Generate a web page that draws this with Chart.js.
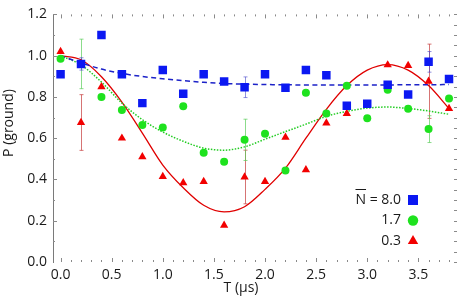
<!DOCTYPE html>
<html>
<head>
<meta charset="utf-8">
<script src="https://cdn.jsdelivr.net/npm/chart.js@4.4.1/dist/chart.umd.min.js"></script>
<style>
  html, body { margin: 0; padding: 0; background: #fff; }
  #wrap { width: 463px; height: 298px; position: relative; }
</style>
</head>
<body>
<div id="wrap"><canvas id="chart"></canvas></div>
<script>
// measurement times (us)
const times = [0.0, 0.2, 0.4, 0.6, 0.8, 1.0, 1.2, 1.4, 1.6, 1.8, 2.0, 2.2, 2.4, 2.6, 2.8, 3.0, 3.2, 3.4, 3.6, 3.8];

// P(ground) for each mean phonon number
const pN80 = [0.91, 0.96, 1.10, 0.91, 0.77, 0.93, 0.815, 0.91, 0.875, 0.847, 0.91, 0.845, 0.93, 0.905, 0.757, 0.767, 0.859, 0.812, 0.97, 0.887];
const pN17 = [0.985, 0.96, 0.80, 0.737, 0.664, 0.652, 0.755, 0.53, 0.486, 0.592, 0.622, 0.443, 0.82, 0.72, 0.854, 0.697, 0.835, 0.743, 0.644, 0.792];
const pN03 = [1.02, 0.676, 0.849, 0.60, 0.51, 0.414, 0.384, 0.39, 0.178, 0.412, 0.39, 0.604, 0.447, 0.673, 0.719, null, 0.955, 0.952, 0.876, 0.744];

const fitN80 = [1.0, 0.965, 0.935, 0.914, 0.899, 0.888, 0.879, 0.871, 0.865, 0.862, 0.86, 0.859, 0.858, 0.858, 0.858, 0.858, 0.858, 0.859, 0.859, 0.86];
const fitN17 = [1.0, 0.955, 0.872, 0.77, 0.69, 0.63, 0.585, 0.552, 0.542, 0.558, 0.595, 0.632, 0.668, 0.706, 0.73, 0.746, 0.751, 0.744, 0.732, 0.716];
const fitN03 = [1.0, 0.98, 0.898, 0.775, 0.625, 0.47, 0.36, 0.275, 0.243, 0.268, 0.352, 0.455, 0.6, 0.74, 0.855, 0.93, 0.957, 0.93, 0.855, 0.744];

// error bars (only a few points carry them)
const errTimes = [0.2, 1.8, 3.6];
const errN80 = [0.03, 0.05, 0.05];
const errN17 = [0.12, 0.10, 0.065];
const errN03 = [0.135, 0.13, 0.18];

const legendLabels = ['8.0', '1.7', '0.3'];
const xTickValues = [0.0, 0.5, 1.0, 1.5, 2.0, 2.5, 3.0, 3.5];
const yTickValues = [0.0, 0.2, 0.4, 0.6, 0.8, 1.0, 1.2];

const BLUE = '#0b18f2';
const GREEN = '#1ee21e';
const RED = '#f20000';

const toPts = (xs, ys) => xs.map((t, i) => ({ x: t, y: ys[i] }));

function valueAt(arr, t) {
    const i = times.indexOf(t);
    return i >= 0 ? arr[i] : null;
}

// error bars under the markers
const errorBars = {
    id: 'errorBars',
    beforeDatasetsDraw(chart) {
        const { ctx, scales: { x, y } } = chart;
        const sets = [
            { vals: pN03, errs: errN03, color: 'rgba(200, 70, 70, 0.75)' },
            { vals: pN17, errs: errN17, color: 'rgba(90, 205, 90, 0.7)' },
            { vals: pN80, errs: errN80, color: 'rgba(70, 70, 200, 0.6)' }
        ];
        ctx.save();
        ctx.lineWidth = 1;
        sets.forEach(s => {
            ctx.strokeStyle = s.color;
            errTimes.forEach((t, i) => {
                const v = valueAt(s.vals, t);
                if (v === null) return;
                const px = Math.round(x.getPixelForValue(t)) + 0.5;
                const top = y.getPixelForValue(v + s.errs[i]);
                const bot = y.getPixelForValue(v - s.errs[i]);
                ctx.beginPath();
                ctx.moveTo(px, top); ctx.lineTo(px, bot);
                ctx.moveTo(px - 2, top); ctx.lineTo(px + 2, top);
                ctx.moveTo(px - 2, bot); ctx.lineTo(px + 2, bot);
                ctx.stroke();
            });
        });
        ctx.restore();
    }
};

// small inward ticks on all four sides, titles, legend
function drawMarker(ctx, style, cx, cy, r, color) {
    ctx.fillStyle = color;
    ctx.beginPath();
    if (style === 'rect') {
        ctx.rect(cx - r, cy - r, 2 * r, 2 * r);
    } else if (style === 'circle') {
        ctx.arc(cx, cy, r, 0, Math.PI * 2);
    } else {
        ctx.moveTo(cx, cy - r);
        ctx.lineTo(cx + r * 0.866, cy + r * 0.5);
        ctx.lineTo(cx - r * 0.866, cy + r * 0.5);
        ctx.closePath();
    }
    ctx.fill();
}

const decorations = {
    id: 'decorations',
    afterDraw(chart) {
        const { ctx, chartArea: a, scales: { x, y } } = chart;
        ctx.save();
        ctx.strokeStyle = '#8a8a8a';
        ctx.lineWidth = 1;
        ctx.beginPath();
        for (let i = 0; i <= 38; i++) {
            const px = Math.round(x.getPixelForValue(i / 10)) + 0.5;
            const len = i % 5 === 0 ? 4 : 2;
            ctx.moveTo(px, a.bottom); ctx.lineTo(px, a.bottom - len);
            ctx.moveTo(px, a.top); ctx.lineTo(px, a.top + len);
        }
        for (let i = 1; i <= 12; i++) {
            const py = Math.round(y.getPixelForValue(i / 10)) + 0.5;
            const len = i % 2 === 0 ? 4 : 2;
            ctx.moveTo(a.left, py); ctx.lineTo(a.left + len, py);
        }
        for (let i = 0; i <= 24; i++) {
            const py = Math.round(y.getPixelForValue(i / 20)) + 0.5;
            ctx.moveTo(a.right, py); ctx.lineTo(a.right - 3, py);
        }
        ctx.stroke();

        // axis titles
        ctx.fillStyle = '#1a1a1a';
        ctx.font = "14px 'Open Sans', sans-serif";
        ctx.textAlign = 'center';
        ctx.textBaseline = 'middle';
        ctx.fillText('T (\u00b5s)', 241, 288);
        ctx.save();
        ctx.translate(9, 123);
        ctx.rotate(-Math.PI / 2);
        ctx.fillText('P (ground)', 0, 0);
        ctx.restore();

        // legend
        const rows = [
            { style: 'rect', r: 5, color: BLUE },
            { style: 'circle', r: 5.2, color: GREEN },
            { style: 'triangle', r: 6, color: RED }
        ];
        ctx.textAlign = 'right';
        rows.forEach((row, i) => {
            const cy = 200 + i * 20.5;
            let text = legendLabels[i];
            if (i === 0) text = 'N = ' + text;
            ctx.fillStyle = '#1a1a1a';
            ctx.fillText(text, 401, cy);
            if (i === 0) {
                const w = ctx.measureText(text).width;
                const nW = ctx.measureText('N').width;
                const left = 401 - w;
                ctx.beginPath();
                ctx.strokeStyle = '#1a1a1a';
                ctx.moveTo(left, cy - 10.5);
                ctx.lineTo(left + nW, cy - 10.5);
                ctx.stroke();
            }
            drawMarker(ctx, row.style, 413, cy, row.r, row.color);
        });
        ctx.restore();
    }
};

new Chart(document.getElementById('chart'), {
    type: 'scatter',
    data: {
        datasets: [
            {
                label: 'N = 8.0',
                data: toPts(times, pN80),
                pointStyle: 'rect',
                pointRadius: 6,
                pointBorderWidth: 0,
                backgroundColor: BLUE,
                borderColor: BLUE
            },
            {
                label: '1.7',
                data: toPts(times, pN17),
                pointStyle: 'circle',
                pointRadius: 4,
                pointBorderWidth: 0,
                backgroundColor: GREEN,
                borderColor: GREEN
            },
            {
                label: '0.3',
                data: toPts(times, pN03),
                pointStyle: 'triangle',
                pointRadius: 4.8,
                pointBorderWidth: 0,
                backgroundColor: RED,
                borderColor: RED
            },
            {
                label: 'fit 8.0',
                type: 'line',
                data: toPts(times, fitN80),
                showLine: true,
                borderColor: '#1c22c8',
                borderWidth: 1.5,
                borderDash: [5, 3.5],
                pointRadius: 0,
                cubicInterpolationMode: 'monotone',
                fill: false
            },
            {
                label: 'fit 1.7',
                type: 'line',
                data: toPts(times, fitN17),
                showLine: true,
                borderColor: '#22cc22',
                borderWidth: 1.5,
                borderDash: [1.5, 1.5],
                pointRadius: 0,
                cubicInterpolationMode: 'monotone',
                fill: false
            },
            {
                label: 'fit 0.3',
                type: 'line',
                data: toPts(times, fitN03),
                showLine: true,
                borderColor: '#e00000',
                borderWidth: 1.3,
                pointRadius: 0,
                cubicInterpolationMode: 'monotone',
                fill: false
            }
        ]
    },
    options: {
        responsive: true,
        maintainAspectRatio: false,
        animation: false,
        layout: { padding: { top: 10, right: 1, left: 0, bottom: 0 } },
        plugins: {
            legend: { display: false },
            tooltip: { enabled: false }
        },
        scales: {
            x: {
                type: 'linear',
                min: -0.074,
                max: 3.878,
                grid: { display: false, drawTicks: false },
                border: { display: false },
                afterBuildTicks: scale => { scale.ticks = xTickValues.map(v => ({ value: v })); },
                afterFit: scale => { scale.height = 36; },
                ticks: {
                    padding: 5,
                    color: '#1a1a1a',
                    font: { family: "'Open Sans', sans-serif", size: 14 },
                    maxRotation: 0,
                    callback: v => Number(v).toFixed(1)
                }
            },
            y: {
                min: 0,
                max: 1.2,
                grid: { display: false, drawTicks: false },
                border: { display: true, color: '#7a7a7a', width: 1 },
                afterBuildTicks: scale => { scale.ticks = yTickValues.map(v => ({ value: v })); },
                afterFit: scale => { scale.width = 53; },
                ticks: {
                    padding: 6,
                    color: '#1a1a1a',
                    font: { family: "'Open Sans', sans-serif", size: 14 },
                    callback: v => Number(v).toFixed(1)
                }
            }
        }
    },
    plugins: [errorBars, decorations]
});
</script>
</body>
</html>
